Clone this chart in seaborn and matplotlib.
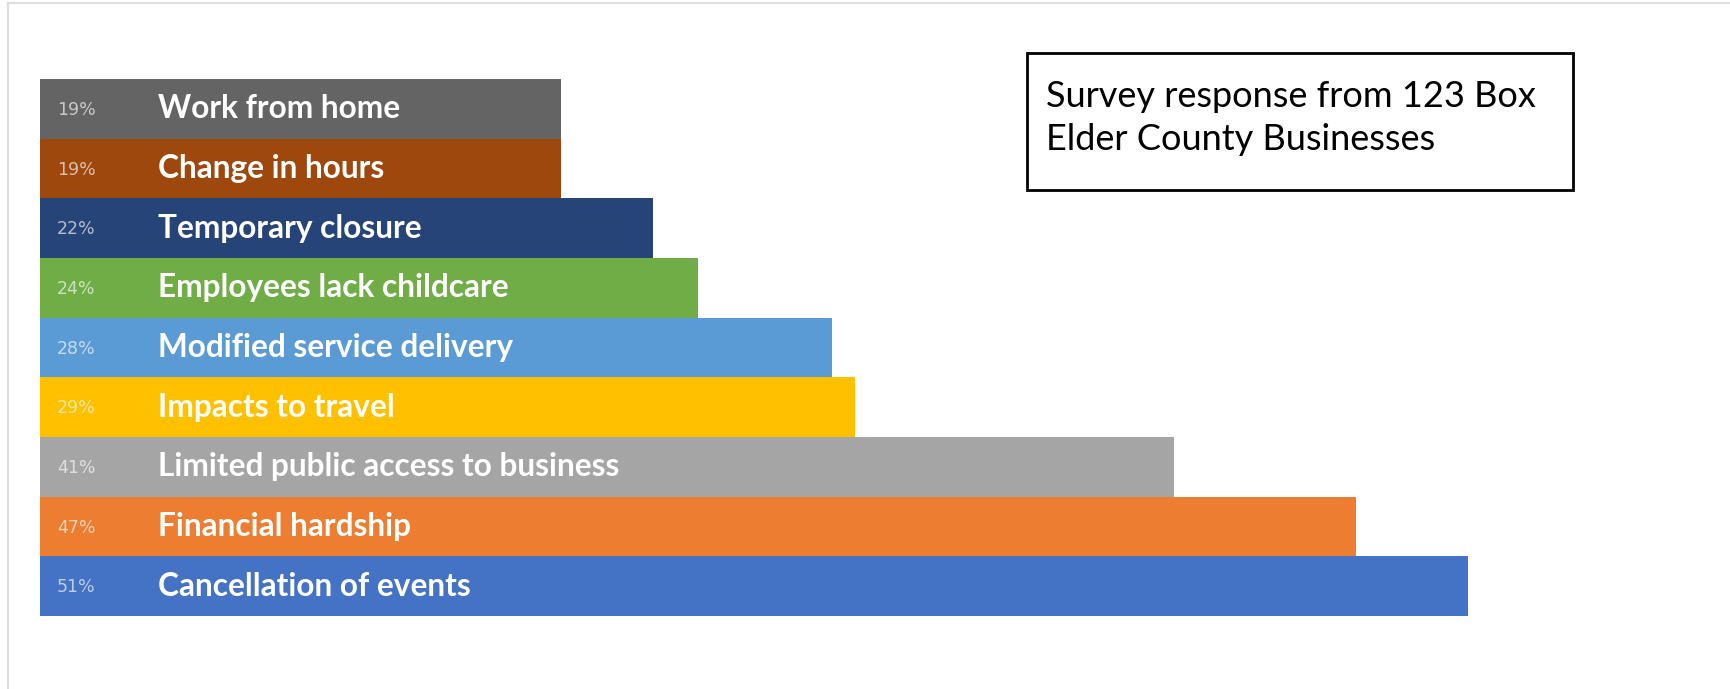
import matplotlib
matplotlib.use("Agg")
import matplotlib.pyplot as plt
from matplotlib.lines import Line2D
import seaborn as sns
import pandas as pd

categories = [
    "Work from home",
    "Change in hours",
    "Temporary closure",
    "Employees lack childcare",
    "Modified service delivery",
    "Impacts to travel",
    "Limited public access to business",
    "Financial hardship",
    "Cancellation of events",
]
# bar lengths (in percent)
values = [18.6, 18.6, 21.9, 23.5, 28.3, 29.1, 40.5, 47.0, 51.0]
value_labels = ["19%", "19%", "22%", "24%", "28%", "29%", "41%", "47%", "51%"]
colors = ["#646464", "#9E480E", "#264478", "#70AD47", "#5B9BD5",
          "#FFC000", "#A5A5A5", "#ED7D31", "#4472C4"]
note_text = "Survey response from 123 Box\nElder County Businesses"

df = pd.DataFrame({"category": categories, "value": values})

sns.set_theme(style="white")
plt.rcParams["font.family"] = ["Lato", "DejaVu Sans"]

W, H = 1731, 689
fig = plt.figure(figsize=(W / 100, H / 100), dpi=100)
fig.patch.set_facecolor("white")

left_px, right_px = 40, 1731
top_px, bottom_px = 79, 616
ax = fig.add_axes([left_px / W, (H - bottom_px) / H,
                   (right_px - left_px) / W, (bottom_px - top_px) / H])
xmax = 51 * (right_px - left_px) / (1468 - left_px)

sns.barplot(data=df, y="category", x="value", hue="category",
            palette=dict(zip(categories, colors)), order=categories,
            orient="h", width=1.0, linewidth=0, saturation=1,
            legend=False, ax=ax)

ax.set_xlim(0, xmax)
ax.set_ylim(len(categories) - 0.5, -0.5)
ax.set_axis_off()

pct_x = xmax * (57 - left_px) / (right_px - left_px)
lab_x = xmax * (158 - left_px) / (right_px - left_px)
for i, (cat, lab) in enumerate(zip(categories, value_labels)):
    ax.text(pct_x, i + 0.02, lab, ha="left", va="center", fontsize=12.5,
            color="white", alpha=0.65, family="DejaVu Sans")
    ax.text(lab_x, i, cat, ha="left", va="center", fontsize=22.8,
            color="white", fontweight="bold")

# note box
bx0, bx1, by0, by1 = 1027, 1573, 53, 190
fig.add_artist(plt.Rectangle((bx0 / W, (H - by1) / H), (bx1 - bx0) / W,
                             (by1 - by0) / H, transform=fig.transFigure,
                             facecolor="white", edgecolor="black", linewidth=2))
fig.text(1046 / W, (H - 80) / H, note_text, ha="left", va="top",
         fontsize=26, color="black", linespacing=1.38)

# faint frame lines (left and top)
fig.add_artist(Line2D([8 / W, 8 / W], [0, 1 - 3 / H], transform=fig.transFigure,
                      color="#dddddd", linewidth=1.5))
fig.add_artist(Line2D([8 / W, 1], [1 - 3 / H, 1 - 3 / H], transform=fig.transFigure,
                      color="#dddddd", linewidth=1.5))

fig.savefig("out.png", dpi=100, facecolor="white")
